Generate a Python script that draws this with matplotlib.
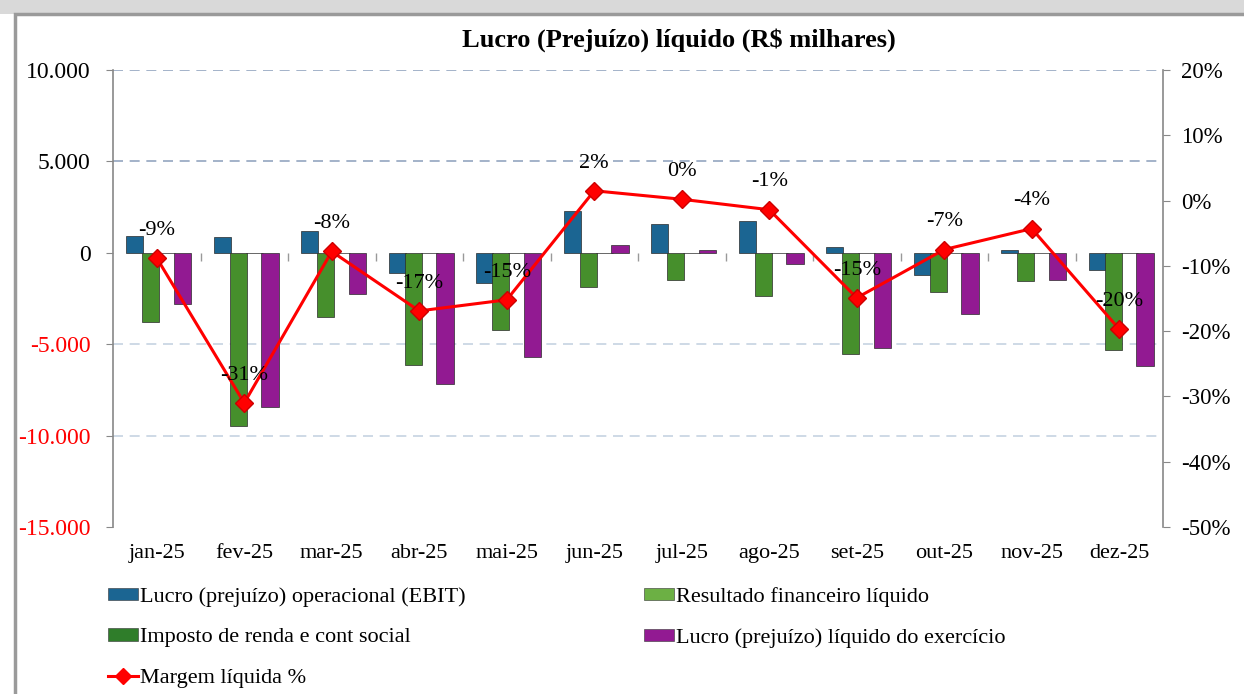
import matplotlib
matplotlib.use("Agg")
import matplotlib.pyplot as plt
import numpy as np
from matplotlib.patches import Rectangle, Patch
from matplotlib.lines import Line2D
from matplotlib.ticker import FuncFormatter, FixedLocator

plt.rcParams['font.family'] = ['Liberation Serif', 'DejaVu Serif']

months = ["jan-25", "fev-25", "mar-25", "abr-25", "mai-25", "jun-25",
          "jul-25", "ago-25", "set-25", "out-25", "nov-25", "dez-25"]
ebit = [930, 860, 1190, -1130, -1640, 2280, 1590, 1730, 310, -1240, 150, -960]
resultado_fin = [-3790, -9480, -3520, -6140, -4230, -1880, -1510, -2370, -5560, -2130, -1550, -5290]
imposto = [0, 0, 0, 0, 0, 0, 0, 0, 0, 0, 0, 0]
lucro_liq = [-2790, -8440, -2240, -7170, -5690, 420, 150, -640, -5200, -3340, -1480, -6200]
margem = [-8.8, -31.0, -7.8, -16.9, -15.2, 1.5, 0.2, -1.4, -14.9, -7.5, -4.3, -19.7]
margem_labels = ["-9%", "-31%", "-8%", "-17%", "-15%", "2%", "0%", "-1%", "-15%", "-7%", "-4%", "-20%"]
left_ticks = [10000, 5000, 0, -5000, -10000, -15000]
right_ticks = [20, 10, 0, -10, -20, -30, -40, -50]

names = ["Lucro (prejuízo) operacional (EBIT)", "Resultado financeiro líquido",
         "Imposto de renda e cont social", "Lucro (prejuízo) líquido do exercício",
         "Margem líquida %"]

c_blue = "#1b6592"
c_lgreen = "#468f2c"
c_dgreen = "#2f7d2a"
c_purple = "#921a92"
c_red = "#ff0000"

W, H = 1244, 694
fig = plt.figure(figsize=(W/100, H/100), dpi=100)
fig.patch.set_facecolor("white")

# outer frame
fig.patches.append(Rectangle((0, 1-14/H), 1, 14/H, transform=fig.transFigure,
                             facecolor="#d9d9d9", edgecolor="none", zorder=-10))
fig.patches.append(Rectangle((15/W, -0.02), 1.1, 1-14/H+0.02, transform=fig.transFigure,
                             facecolor="white", edgecolor="#9a9a9a", linewidth=2.5, zorder=-9))

ax = fig.add_axes([113/W, 1-527/H, (1163-113)/W, (527-70)/H])
ax.set_facecolor("none")
x = np.arange(len(months))
s = 0.182
bw = 0.195
series = [(ebit, c_blue), (resultado_fin, c_lgreen), (imposto, c_dgreen), (lucro_liq, c_purple)]
for i, (vals, col) in enumerate(series):
    ax.bar(x + (i - 1.5) * s + 0.021, vals, width=bw, color=col,
           edgecolor="#2a2a2a", linewidth=0.5, zorder=3)

ax.set_xlim(-0.5, len(months) - 0.5)
ax.set_ylim(-15000, 10000)
ax.yaxis.set_major_locator(FixedLocator(left_ticks))
ax.yaxis.set_major_formatter(FuncFormatter(lambda v, p: f"{int(v):,}".replace(",", ".")))
for v in left_ticks:
    if v not in (0, -15000):
        col = "#94a6c0" if v > 0 else "#c6d3e2"
        ax.axhline(v, color=col, linestyle=(0, (6, 4)), linewidth=1.2, zorder=1)
ax.tick_params(axis="y", labelsize=17, direction="out", length=5, color="#888888", pad=11)
for lab, v in zip(ax.get_yticklabels(), left_ticks):
    lab.set_color("#ff0000" if v < 0 else "black")

ax.set_xticks(x)
ax.set_xticklabels(months, fontsize=16)
ax.tick_params(axis="x", length=0, pad=12)
for sp in ["top", "bottom", "right"]:
    ax.spines[sp].set_visible(False)
ax.spines["left"].set_color("#888888")
ax.spines["left"].set_linewidth(1.2)

# category axis at zero
sec = ax.secondary_xaxis(15000/25000)
sec.set_xticks(x[:-1] + 0.5)
sec.set_xticklabels([])
sec.tick_params(axis="x", direction="out", length=6, color="#999999", width=1, top=False, bottom=True)
sec.spines["bottom"].set_color("#999999")
sec.spines["bottom"].set_linewidth(1.6)
sec.spines["top"].set_visible(False)

ax2 = ax.twinx()
ax2.set_ylim(-50, 20)
ax2.yaxis.set_major_locator(FixedLocator(right_ticks))
ax2.yaxis.set_major_formatter(FuncFormatter(lambda v, p: f"{int(v)}%"))
ax2.tick_params(axis="y", labelsize=16.5, direction="out", length=5, color="#888888", pad=8)
for sp in ["top", "bottom", "left"]:
    ax2.spines[sp].set_visible(False)
ax2.spines["right"].set_color("#888888")
ax2.spines["right"].set_linewidth(1.2)
ax2.plot(x, margem, color=c_red, linewidth=2.2, marker="D", markersize=9.5,
         markerfacecolor=c_red, markeredgecolor="#cc0000", zorder=5)
for xi, m, lab in zip(x, margem, margem_labels):
    ax2.annotate(lab, (xi, m), xytext=(0, 20), textcoords="offset points",
                 ha="center", va="center", fontsize=16, zorder=6)

fig.text(679/W, 1-40/H, "Lucro (Prejuízo) líquido (R$ milhares)", ha="center", va="center",
         fontsize=19, fontweight="bold")

handles = [
    Patch(facecolor=c_blue, edgecolor="#333333", linewidth=0.4),
    Patch(facecolor=c_dgreen, edgecolor="#333333", linewidth=0.4),
    Line2D([], [], color=c_red, linewidth=2.2, marker="D", markersize=8, markerfacecolor=c_red),
    Patch(facecolor="#6cb044", edgecolor="#333333", linewidth=0.4),
    Patch(facecolor=c_purple, edgecolor="#333333", linewidth=0.4),
]
labels = [names[0], names[2], names[4], names[1], names[3]]
fig.legend(handles, labels, loc="upper left", bbox_to_anchor=(108/W, 1-587/H), ncol=2,
           frameon=False, fontsize=16, handlelength=1.35, handleheight=0.5, handletextpad=0.1,
           labelspacing=0.96, columnspacing=8.0, borderaxespad=0, borderpad=0)

fig.savefig("out.png", dpi=100)
